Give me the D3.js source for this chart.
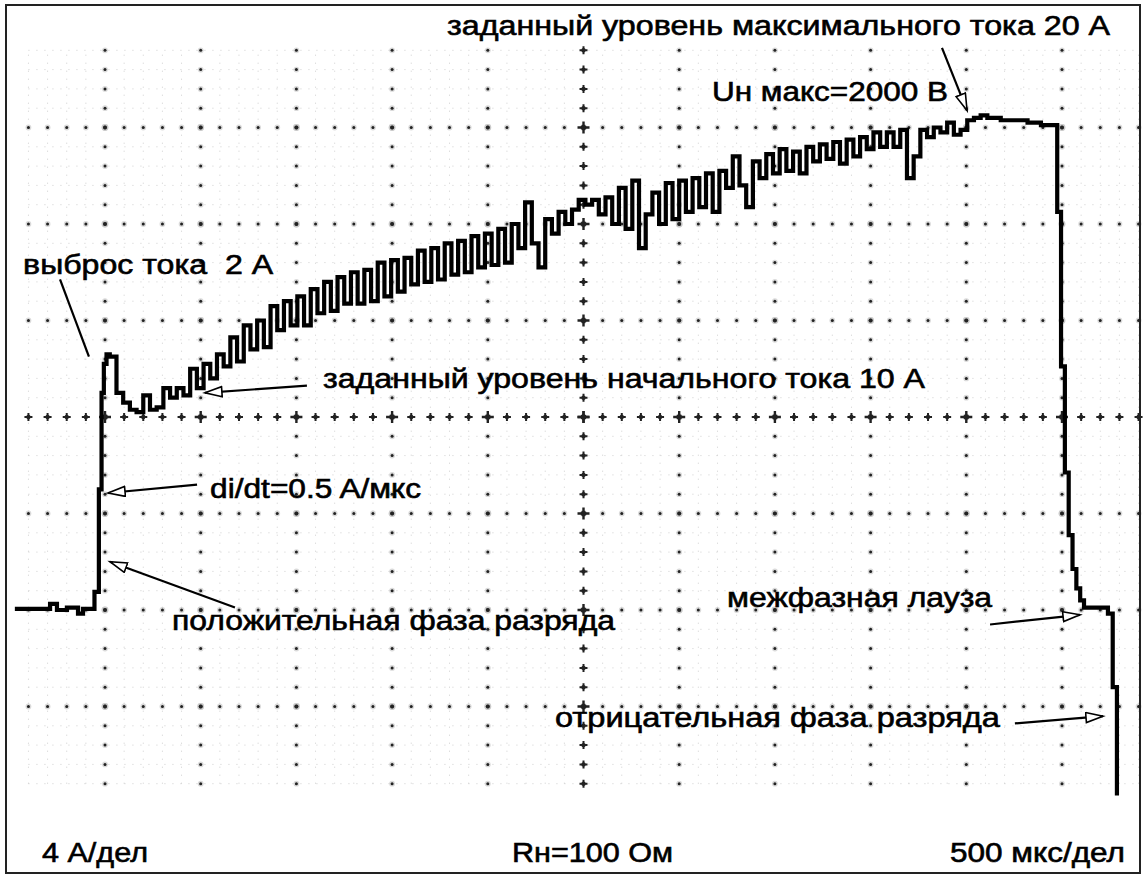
<!DOCTYPE html>
<html>
<head>
<meta charset="utf-8">
<script src="https://cdn.jsdelivr.net/npm/d3@7"></script>
<style>
  html, body { margin: 0; padding: 0; background: #fff; }
  svg { display: block; }
  text { font-family: "Liberation Sans", Arial, sans-serif; fill: #000; white-space: pre; }
</style>
</head>
<body>
<svg id="chart" width="1144" height="874"></svg>
<script>
// ---------------- data ----------------
const timePerDivision = 500;      // мкс/дел
const currentPerDivision = 4;     // А/дел
const gridTimes = [0, 500, 1000, 1500, 2000, 2500, 3000, 3500, 4000, 4500, 5000];
const gridCurrents = [-4, 0, 4, 8, 12, 16, 20];

// pre-pulse baseline and rise: time (мкс), current (А)
const riseTimes  = [-460, -287, -251, -199, -141, -115, -55, -32, -18, -6, 8];
const riseValues = [0.05, 0.25, 0.0, 0.1, -0.15, 0.05, 0.75, 5.0, 9.0, 10.2, 10.6];

// positive phase, sampled every 35 мкс starting at 25 мкс
const pulseStart = 25;
const pulseInterval = 35;
const pulseValues = [
  10.5, 9.0, 8.6, 8.3, 8.2, 8.9, 8.3, 8.4, 9.2, 8.8,
  9.2, 8.9, 10.0, 9.2, 10.2, 9.6, 10.6, 10.1, 11.3, 10.3,
  11.8, 10.8, 12.0, 10.9, 12.6, 11.6, 12.8, 11.8, 13.0, 11.8,
  13.3, 12.3, 13.6, 12.4, 13.8, 12.7, 14.0, 12.7, 14.1, 12.8,
  14.4, 13.0, 14.5, 13.2, 14.6, 13.5, 14.9, 13.6, 15.0, 13.7,
  15.2, 13.9, 15.3, 14.0, 15.5, 14.2, 15.6, 14.3, 15.8, 14.4,
  16.0, 15.0, 16.9, 15.2, 14.2, 16.2, 15.6, 16.5, 16.0, 16.6,
  17.0, 16.8, 17.0, 16.4, 17.1, 16.0, 17.5, 15.8, 17.8, 15.0,
  16.4, 17.3, 16.0, 17.7, 16.2, 17.8, 16.5, 17.9, 16.7, 18.1,
  16.5, 18.2, 17.5, 18.8, 17.6, 16.7, 18.6, 17.9, 18.9, 18.1,
  19.1, 18.2, 19.0, 18.1, 19.2, 18.6, 19.3, 18.7, 19.4, 18.5,
  19.5, 18.8, 19.6, 19.1, 19.8, 19.2, 19.8, 19.2, 19.9, 17.9,
  18.8, 19.9, 19.6, 20.0, 19.8, 20.2, 19.7, 19.9, 20.3, 20.4,
  20.5, 20.4, 20.4, 20.3, 20.3, 20.3, 20.3, 20.2, 20.2, 20.1,
  20.1
];

// fall, inter-phase pause and negative phase
const fallTimes  = [4975, 4995, 5015, 5035, 5055, 5075, 5095, 5115, 5240, 5265, 5287];
const fallValues = [16.5, 10.1, 5.7, 3.1, 1.7, 0.9, 0.4, 0.1, -0.15, -3.2, -7.6];

const annotationTexts = [
  "заданный уровень максимального тока 20 A",
  "Uн макс=2000 В",
  "выброс тока  2 A",
  "заданный уровень начального тока 10 A",
  "di/dt=0.5 A/мкс",
  "положительная фаза разряда",
  "межфазная лауза",
  "отрицательная фаза разряда"
];
const scaleTexts = ["4 А/дел", "Rн=100 Ом", "500 мкс/дел"];

// ---------------- chart ----------------
const W = 1144, H = 874;
const svg = d3.select("#chart");
svg.append("rect").attr("width", W).attr("height", H).attr("fill", "#fff");

const x = d3.scaleLinear().domain([0, 10 * timePerDivision]).range([105, 1062]);
const y = d3.scaleLinear().domain([-2 * currentPerDivision, 6 * currentPerDivision]).range([803, 31]);

const minorTimeSteps = d3.range(-4, 55);      // *100 мкс
const minorCurrentSteps = d3.range(-9, 30);   // *0.8 А
const tMin = timePerDivision / 5, iMin = currentPerDivision / 5;

const grid = svg.append("g");

// faint minor grid
minorTimeSteps.filter(k => k % 5 !== 0).forEach(k => {
  grid.append("line")
    .attr("x1", x(k * tMin)).attr("x2", x(k * tMin))
    .attr("y1", y(-9 * iMin)).attr("y2", y(29 * iMin))
    .attr("stroke", "#cfcfcf").attr("stroke-width", 1).attr("stroke-dasharray", "1,7");
});
minorCurrentSteps.filter(k => k % 5 !== 0).forEach(k => {
  grid.append("line")
    .attr("y1", y(k * iMin)).attr("y2", y(k * iMin))
    .attr("x1", x(-4 * tMin)).attr("x2", x(54 * tMin))
    .attr("stroke", "#cfcfcf").attr("stroke-width", 1).attr("stroke-dasharray", "1,7");
});

const centerT = 5 * timePerDivision, centerI = 2 * currentPerDivision;

function smallMark(cx, cy, big) {
  const r = big ? 2.0 : 1.5;
  grid.append("circle").attr("cx", cx).attr("cy", cy).attr("r", r + 1.4).attr("fill", "#bbb").attr("opacity", 0.55);
  grid.append("circle").attr("cx", cx).attr("cy", cy).attr("r", r).attr("fill", "#222");
}
function crossMark(cx, cy, big) {
  const a = big ? 6 : 4;
  grid.append("path")
    .attr("d", `M${cx - a},${cy}H${cx + a}M${cx},${cy - a}V${cy + a}`)
    .attr("stroke", "#222").attr("stroke-width", big ? 2.4 : 2);
  grid.append("circle").attr("cx", cx).attr("cy", cy).attr("r", big ? 2.8 : 2.2).attr("fill", "#222");
}

// major vertical lines
gridTimes.filter(t => t !== centerT).forEach(t => {
  minorCurrentSteps.forEach(k => smallMark(x(t), y(k * iMin), k % 5 === 0));
});
// major horizontal lines
gridCurrents.filter(c => c !== centerI).forEach(c => {
  minorTimeSteps.forEach(k => smallMark(x(k * tMin), y(c), k % 5 === 0));
});
// center axes
minorCurrentSteps.forEach(k => crossMark(x(centerT), y(k * iMin), k % 5 === 0));
minorTimeSteps.forEach(k => crossMark(x(k * tMin), y(centerI), k % 5 === 0));

// ---------------- waveform ----------------
const series = [];
riseTimes.forEach((t, i) => series.push({ t, v: riseValues[i] }));
pulseValues.forEach((v, i) => series.push({ t: pulseStart + i * pulseInterval, v }));
fallTimes.forEach((t, i) => series.push({ t, v: fallValues[i] }));

const line = d3.line().x(d => x(d.t)).y(d => y(d.v)).curve(d3.curveStepAfter);
svg.append("path")
  .datum(series)
  .attr("d", line)
  .attr("fill", "none")
  .attr("stroke", "#000")
  .attr("stroke-width", 4.2)
  .attr("stroke-linejoin", "miter")
  .attr("stroke-linecap", "square");

// ---------------- annotations ----------------
const defs = svg.append("defs");
defs.append("marker")
  .attr("id", "openArrow")
  .attr("markerUnits", "userSpaceOnUse")
  .attr("markerWidth", 22).attr("markerHeight", 14)
  .attr("refX", 18).attr("refY", 6)
  .attr("orient", "auto")
  .append("path")
  .attr("d", "M1,1 L18,6 L1,11 Z")
  .attr("fill", "#fff").attr("stroke", "#000").attr("stroke-width", 1.6);

const ann = svg.append("g");
function pointer(from, to, arrow) {
  const p = ann.append("line")
    .attr("x1", x(from[0])).attr("y1", y(from[1]))
    .attr("x2", x(to[0])).attr("y2", y(to[1]))
    .attr("stroke", "#000").attr("stroke-width", 2.2);
  if (arrow) p.attr("marker-end", "url(#openArrow)");
}
// leader lines / arrows, anchored in data coordinates (мкс, А)
pointer([4373, 23.3], [4504, 20.7], true);
pointer([-235, 13.7], [-84, 10.5], false);
pointer([1055, 9.3], [522, 9.0], true);
pointer([481, 5.2], [16, 4.85], true);
pointer([679, 0.1], [26, 2.0], true);
pointer([4624, -0.6], [5094, -0.2], true);
pointer([4754, -4.7], [5214, -4.4], true);

const labelLayout = [
  { t: 1787, v: 23.83, w: 663 },
  { t: 3171, v: 21.1, w: 236 },
  { t: -428, v: 13.93, w: 250 },
  { t: 1139, v: 9.2, w: 602 },
  { t: 549, v: 4.64, w: 211 },
  { t: 350, v: -0.83, w: 443 },
  { t: 3250, v: 0.12, w: 265 },
  { t: 2351, v: -4.85, w: 445 }
];
function label(sel, s, px, py, w) {
  sel.append("text")
    .attr("x", px).attr("y", py)
    .attr("font-size", 27)
    .attr("stroke", "#000").attr("stroke-width", 0.6)
    .attr("textLength", w).attr("lengthAdjust", "spacingAndGlyphs")
    .attr("xml:space", "preserve")
    .text(s);
}
annotationTexts.forEach((s, i) => {
  const L = labelLayout[i];
  label(ann, s, x(L.t), y(L.v), L.w);
});

const bottomLayout = [{ x: 42, w: 106 }, { x: 512, w: 161 }, { x: 950, w: 175 }];
scaleTexts.forEach((s, i) => label(ann, s, bottomLayout[i].x, 862, bottomLayout[i].w));

// frame
svg.append("rect")
  .attr("x", 6).attr("y", 5).attr("width", 1134).attr("height", 868)
  .attr("fill", "none").attr("stroke", "#222").attr("stroke-width", 2);
</script>
</body>
</html>
